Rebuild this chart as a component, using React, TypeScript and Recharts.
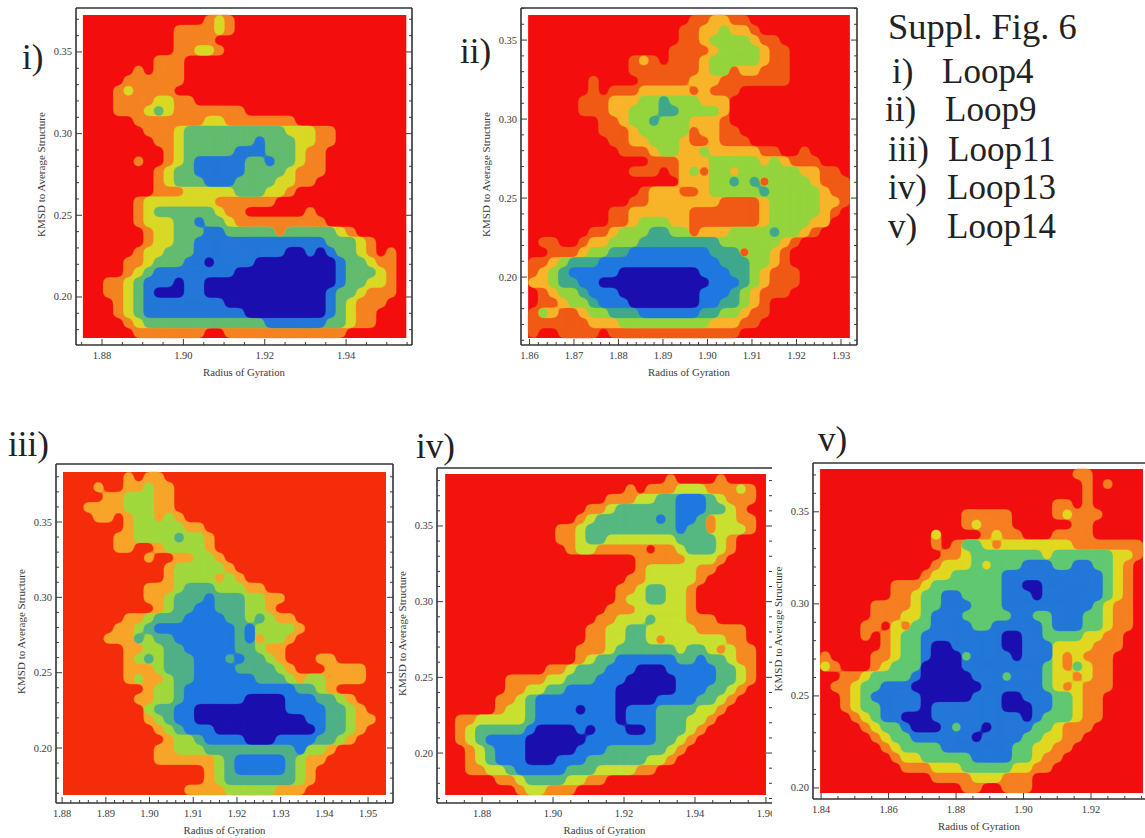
import React from "react";
import { ScatterChart, Scatter, XAxis, YAxis, ReferenceArea } from "recharts";

const rowsLoop4 = [
"00000000000012100000000000000000","00000000011112100000000000000000","00000000011110000000000000000000","00000000011221000000000000000000",
"00000001110000000000000000000000","00000101110000000000000000000000","00001111110000000000000000000000","00012111100000000000000000000000",
"00011112211000000000000000000000","00011123211111110000000000000000","00000111111122111111100000000000","00000011123333333333222110000000",
"00000001123333333433322110000000","00000000123333344433321100000000","00000100123444443343321100000000","00000001233444443333211100000000",
"00000001233344433332211000000000","00000001112222233322100000000000","00000122222221111110000000000000","00000123333332110000001000000000",
"00000122233433211111111100000000","00000012233344333331333332100000","00000012233444444444444433321000","00000122333444444444554543321010",
"00001123334454444555555554332110","00001234444444455555555554333210","00112344454455555555555554332210","00112345554455555555555543321110",
"00012344444444555555555543211100","00012344444444445555555543211000","00001233333333333344444433211000","00000111111100111111111111000000",
];
const rowsLoop9 = [
"00000000000000001122110000000000","00000000000000011223221000000000","00000000000000011233332110000000","00000000000000111123333211000000",
"00000000001210111233333211000000","00000000001111111233122111000000","00000010000111112221111111000000","00000010111222221211100000000000",
"00000111222334333222000000000000","00000111223334433332000000000000","00000001123343332221000000000000","00000001112333331221100000000000",
"00000000112233321121110000000000","00000000011123322322222110010000","00000000000011122233333232111000","00000000001110123133233333322110",
"00000000000000022233434133332111","00000000000122211233333433333211","00000000001122222221111233333221","00000000112222221111111233333210",
"00000000112333221111111233332200","00000011233344331222333343321000","01100122333444444443333332100000","00111233445555555544413321000000",
"11234445555555555554443321000000","12345555566666666555443211100000","22344556666666666655543211100000","01233455566666666555432111000000",
"01123345556666666554432100000000","13211233444555555443321100000000","11111122233333333322211000000000","10011110111111111111100000000000",
];
const rowsLoop11 = [
"00000010110000000000000000000000","00010011211000000000000000000000","00001122211000000000000000000000","00111122211000000000000000000000",
"00011012212100000000000000000000","00000012222211000000000000000000","00000112222322100000000000000000","00000110012222100000000000000000",
"00000000100112210000000000000000","00000000001222221000000000000000","00000000001222212100000000000000","00000000111233322211000000000000",
"00000000112333433322110000000000","00000000012334433322100000000000","00000011233344443323211000000000","00000112344444444342222100000000",
"00001113233444444341221000000000","00000011223344444332110000000000","00000012323334443433210001100000","00000011123334444333321000111100",
"00000012112334444443332122111100","00000000122344444444444332100000","00000001122344444455554443321000","00000000233445555555554444332100",
"00000000123445555555555544332110","00000000012344455555555554332100","00000000001223444455544443321000","00000000011222333333333422100000",
"00000000011111123444443211000000","00000000000000123444443210000000","00000000000000123333333210000000","00000000000011112222211100000000",
];
const rowsLoop13 = [
"00000000000000000000001000010000","00000000000000000010111222111210","00000000000000001112233444321110","00000000000000112333333444332100",
"00000000000001233333343443122110","00000000000112333333333433122210","00000000000112332222222333321000","00000000000012211111011233321000",
"00000000000000000001111122210000","00000000000000000001222221100000","00000000000000000011222221000000","00000000000000000112332210000000",
"00000000000000000122332210000000","00000000000000001112222210000000","00000000000000011222322211100000","00000000000000112233222221111100",
"00000000000000112233212222221100","00000000000001112333333233212110","00000000000001233444444334332110","00000000001123334445554444433210",
"00000011112233344455555444433210","00000011223344444555555444332100","00000112344444444555544443321000","00000122344445444544433332210000",
"01122222344444444544433322100000","01233333455554544455433321000000","01234444555555444444433210000000","00123444555554443333332100000000",
"00123444555444333333221000000000","00112234444433322221100000000000","00000112333322110000000000000000","00000001221110000000000000000000",
];
const rowsLoop14 = [
"00000000000000000000000001100000","00000000000000000000000000101000","00000000000000000000000000100000","00000000000000000000000110100000",
"00000000000000111110000121110000","00000000000000121110000001100000","00000000000200001211000111100000","00000000000101332122222221111111",
"00000000000011233333332333333221","00000000000122232333444334433210","00000000001223333344444444443210","00000001112333333344554444443210",
"00000001123344333344454444443210","00000111123344433344444444432110","00000111223444333334433444332110","00001102133444433444443444332110",
"00001012334444444455443333221100","00000012334554444455444222211100","10000112334555344445444212111000","21000123335555444444443213211000",
"00112333345555544434443221211000","01123344455555554444443212111000","00123444445555544455444332110000","00123344445444444455544332110000",
"00012344555444444444543332110000","00001233455543445444433211100000","00000123344444454444332211000000","00000012333344444443322110000000",
"00000001223333344443321100000000","00000000111222333332211000000000","00000000000111122211100000000000","00000000000000110011100000000000",
];

const paletteLoop4 = ["#f30d0d", "#f58220", "#d8d825", "#62bb6e", "#2277d8", "#1a0fae"];
const paletteLoop9 = ["#f30d0d", "#f05a14", "#f8b428", "#94d43c", "#3fa88c", "#1f78e0", "#1a0fae"];
const paletteLoop11 = ["#f52c0a", "#f8a428", "#a0d83c", "#4fb088", "#1f78e0", "#1a0fae"];
const paletteLoop13 = ["#f2140c", "#f58a20", "#c8e030", "#55b880", "#1f78e0", "#1a0fae"];
const paletteLoop14 = ["#f00e0e", "#f57f20", "#e0d820", "#60c870", "#2277d8", "#1a0fae"];

const xMajorLoop4 = [1.88, 1.9, 1.92, 1.94];
const xMajorLoop9 = [1.86, 1.87, 1.88, 1.89, 1.9, 1.91, 1.92, 1.93];
const xMajorLoop11 = [1.88, 1.89, 1.9, 1.91, 1.92, 1.93, 1.94, 1.95];
const xMajorLoop13 = [1.88, 1.9, 1.92, 1.94, 1.96];
const xMajorLoop14 = [1.84, 1.86, 1.88, 1.9, 1.92];
const yMajorLoop4 = [0.2, 0.25, 0.3, 0.35];
const yMajorLoop14 = [0.2, 0.25, 0.3, 0.35];

const X_TITLE = "Radius of Gyration";
const Y_TITLE = "KMSD to Average Structure";
const TEXT_FONT = "'Liberation Serif', serif";
const INK = "#3a3a3a";

type Panel = {
  rows: string[]; palette: string[]; xMajor: number[]; yMajor: number[]; xStep: number;
  left: number; top: number; width: number; height: number; marginLeft: number; marginRight: number;
  xDomain: [number, number]; yDomain: [number, number];
  xColor: [number, number]; yColor: [number, number];
  cellW: number; cellH: number; rightLine: boolean; rightTicks: boolean; background?: string;
};

const panels: Panel[] = [
  { rows: rowsLoop4, palette: paletteLoop4, xMajor: xMajorLoop4, yMajor: yMajorLoop4, xStep: 0.005,
    left: 76, top: 8, width: 336, height: 337, marginLeft: 45, marginRight: 12,
    xDomain: [1.8736, 1.9562], yDomain: [0.1706, 0.3769], xColor: [1.8753, 1.9548], yColor: [0.1749, 0.3726],
    cellW: 323 / 32, cellH: 323 / 32, rightLine: true, rightTicks: true },
  { rows: rowsLoop9, palette: paletteLoop9, xMajor: xMajorLoop9, yMajor: yMajorLoop4, xStep: 0.002,
    left: 521, top: 8, width: 336, height: 337, marginLeft: 45, marginRight: 12,
    xDomain: [1.8581, 1.9336], yDomain: [0.157, 0.3703], xColor: [1.8597, 1.932], yColor: [0.1614, 0.3658],
    cellW: 323 / 32, cellH: 323 / 32, rightLine: true, rightTicks: true },
  { rows: rowsLoop11, palette: paletteLoop11, xMajor: xMajorLoop11, yMajor: yMajorLoop4, xStep: 0.002,
    left: 56, top: 464, width: 337, height: 339, marginLeft: 45, marginRight: 12,
    xDomain: [1.8786, 1.9557], yDomain: [0.1635, 0.3885], xColor: [1.8802, 1.9541], yColor: [0.1688, 0.3832],
    cellW: 323 / 32, cellH: 323 / 32, rightLine: true, rightTicks: true },
  { rows: rowsLoop13, palette: paletteLoop13, xMajor: xMajorLoop13, yMajor: yMajorLoop4, xStep: 0.005,
    left: 437, top: 468, width: 335, height: 335, marginLeft: 45, marginRight: 12,
    xDomain: [1.8673, 1.9617], yDomain: [0.167, 0.3883], xColor: [1.8696, 1.96], yColor: [0.1723, 0.3843],
    cellW: 321 / 32, cellH: 321 / 32, rightLine: false, rightTicks: true },
  { rows: rowsLoop14, palette: paletteLoop14, xMajor: xMajorLoop14, yMajor: yMajorLoop14, xStep: 0.005,
    left: 813, top: 463, width: 332, height: 336, marginLeft: 41, marginRight: 0,
    xDomain: [1.8376, 1.936], yDomain: [0.194, 0.3765], xColor: [1.8397, 1.9354], yColor: [0.1973, 0.3733],
    cellW: 323 / 32, cellH: 324 / 32, rightLine: false, rightTicks: false, background: "#ffffff" },
];

const notes = [
  { text: "Suppl. Fig. 6", x: 888, y: 27, size: 36.5 },
  { text: "i)", x: 892, y: 72, size: 35 }, { text: "Loop4", x: 942, y: 72, size: 35 },
  { text: "ii)", x: 885, y: 110, size: 35 }, { text: "Loop9", x: 945, y: 110, size: 35 },
  { text: "iii)", x: 888, y: 150, size: 35 }, { text: "Loop11", x: 948, y: 150, size: 35 },
  { text: "iv)", x: 888, y: 188, size: 35 }, { text: "Loop13", x: 947, y: 188, size: 35 },
  { text: "v)", x: 888, y: 227, size: 35 }, { text: "Loop14", x: 947, y: 227, size: 35 },
  { text: "i)", x: 22, y: 58, size: 35 }, { text: "ii)", x: 460, y: 52, size: 35 },
  { text: "iii)", x: 8, y: 445, size: 35 }, { text: "iv)", x: 416, y: 447, size: 35 }, { text: "v)", x: 818, y: 440, size: 35 },
];

function stepped(domain: [number, number], step: number) {
  const out: number[] = [];
  const start = Math.ceil(domain[0] / step);
  const end = Math.floor(domain[1] / step);
  for (let i = start; i <= end; i++) out.push(Number((i * step).toFixed(4)));
  return out;
}

function cellsAtLevel(p: Panel, level: number) {
  const out: { x: number; y: number }[] = [];
  const n = p.rows.length;
  p.rows.forEach((row, r) => {
    const m = row.length;
    row.split("").forEach((ch, c) => {
      if (Number(ch) >= level) {
        out.push({
          x: p.xColor[0] + ((c + 0.5) * (p.xColor[1] - p.xColor[0])) / m,
          y: p.yColor[1] - ((r + 0.5) * (p.yColor[1] - p.yColor[0])) / n,
        });
      }
    });
  });
  return out;
}

const near = (list: number[], v: number) => list.some((m) => Math.abs(m - v) < 1e-6);

function ContourPanel({ p }: { p: Panel }) {
  const mt = 8;
  const mb = 40;
  const w = p.width + p.marginLeft + p.marginRight;
  const h = p.height + mt + mb;
  const xTicks = stepped(p.xDomain, p.xStep);
  const yTicks = stepped(p.yDomain, 0.01);
  const levels = p.palette.map((_, i) => i).slice(1);
  const xTick = (side: "top" | "bottom") => (t: any) => {
    const big = near(p.xMajor, t.payload.value);
    const dir = side === "bottom" ? -1 : 1;
    return (
      <g>
        <line x1={t.x} x2={t.x} y1={t.y} y2={t.y + dir * (big ? 6 : 3)} stroke={INK} strokeWidth={1} />
        {side === "bottom" && big ? (
          <text x={t.x} y={t.y + 14} textAnchor="middle" fontSize={10.5} fontFamily={TEXT_FONT} fill={INK}>
            {t.payload.value.toFixed(2)}
          </text>
        ) : null}
      </g>
    );
  };
  const yTick = (side: "left" | "right") => (t: any) => {
    const big = near(p.yMajor, t.payload.value);
    const dir = side === "left" ? 1 : -1;
    return (
      <g>
        <line x1={t.x} x2={t.x + dir * (big ? 6 : 3)} y1={t.y} y2={t.y} stroke={INK} strokeWidth={1} />
        {side === "left" && big ? (
          <text x={t.x - 4} y={t.y + 3.5} textAnchor="end" fontSize={10.5} fontFamily={TEXT_FONT} fill={INK}>
            {t.payload.value.toFixed(2)}
          </text>
        ) : null}
      </g>
    );
  };
  const axisLine = { stroke: "#333333", strokeWidth: 1.6 };
  const titleStyle = { fontSize: 10.7, fontFamily: TEXT_FONT, fill: INK };
  const yTitle = () => {
    const cx = p.marginLeft - 35;
    const cy = mt + p.height / 2 - 2;
    return (
      <text x={cx} y={cy} transform={`rotate(-90 ${cx} ${cy})`} textAnchor="middle" dominantBaseline="central" fontSize={11} fontFamily={TEXT_FONT} fill={INK}>
        {Y_TITLE}
      </text>
    );
  };
  return (
    <div style={{ position: "absolute", left: p.left - p.marginLeft, top: p.top - mt, width: w, height: h, background: p.background }}>
      <ScatterChart width={w} height={h}
        margin={{ top: mt - 1, right: p.rightTicks ? p.marginRight - 1 : p.marginRight, bottom: mb - 1, left: p.marginLeft - 1 }}>
        <XAxis xAxisId={0} type="number" dataKey="x" domain={p.xDomain} allowDataOverflow ticks={xTicks} interval={0}
          height={1} tickSize={0} tickMargin={0} tickLine={false} axisLine={axisLine} tick={xTick("bottom")}
          label={{ value: X_TITLE, position: "bottom", offset: 22, style: titleStyle }} />
        <XAxis xAxisId="top" orientation="top" type="number" domain={p.xDomain} allowDataOverflow ticks={xTicks} interval={0}
          height={1} tickSize={0} tickMargin={0} tickLine={false} axisLine={axisLine} tick={xTick("top")} />
        <YAxis yAxisId={0} type="number" dataKey="y" domain={p.yDomain} allowDataOverflow ticks={yTicks} interval={0}
          width={1} tickSize={0} tickMargin={0} tickLine={false} axisLine={axisLine} tick={yTick("left")}
          label={{ value: Y_TITLE, content: yTitle }} />
        {p.rightTicks ? (
          <YAxis yAxisId="right" orientation="right" type="number" domain={p.yDomain} allowDataOverflow ticks={yTicks} interval={0}
            width={1} tickSize={0} tickMargin={0} tickLine={false} axisLine={p.rightLine ? axisLine : false} tick={yTick("right")} />
        ) : null}
        <ReferenceArea x1={p.xColor[0]} x2={p.xColor[1]} y1={p.yColor[0]} y2={p.yColor[1]} fill={p.palette[0]} fillOpacity={1} stroke="none" />
        {levels.map((level) => (
          <Scatter key={level} name={`level ${level}`} data={cellsAtLevel(p, level)} isAnimationActive={false} fill={p.palette[level]}
            shape={(s: any) => (
              <rect x={s.cx - p.cellW / 2 - 0.2} y={s.cy - p.cellH / 2 - 0.2} width={p.cellW + 0.4} height={p.cellH + 0.4} fill={p.palette[level]} />
            )} />
        ))}
      </ScatterChart>
    </div>
  );
}

export default function App() {
  return (
    <div style={{ position: "absolute", left: 0, top: 0, width: 1145, height: 838, background: "#ffffff", overflow: "hidden" }}>
      <style>{`.recharts-scatter{filter:url(#contour);}`}</style>
      <svg width={0} height={0} style={{ position: "absolute" }}>
        <defs>
          <filter id="contour" filterUnits="userSpaceOnUse" x={0} y={0} width={1145} height={838} colorInterpolationFilters="sRGB">
            <feGaussianBlur in="SourceGraphic" stdDeviation={3.4} />
            <feComponentTransfer>
              <feFuncA type="linear" slope={7} intercept={-3} />
            </feComponentTransfer>
          </filter>
        </defs>
      </svg>
      {panels.map((p, i) => (
        <ContourPanel key={i} p={p} />
      ))}
      {notes.map((n, i) => (
        <div key={i} style={{ position: "absolute", left: n.x, top: n.y - 20, fontFamily: TEXT_FONT, fontSize: n.size, lineHeight: "40px", color: "#222222", whiteSpace: "nowrap" }}>
          {n.text}
        </div>
      ))}
    </div>
  );
}
